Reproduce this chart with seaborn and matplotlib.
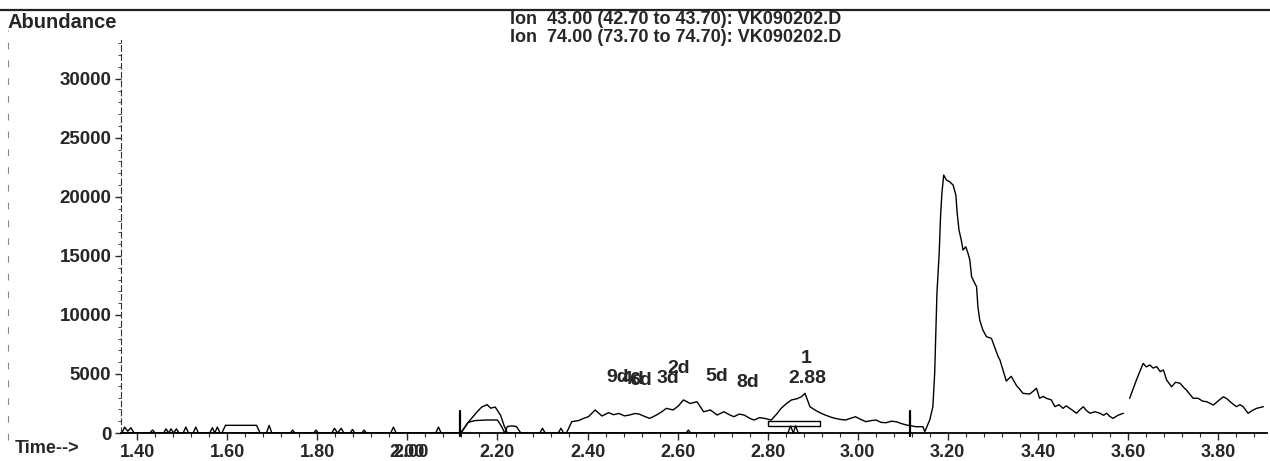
import numpy as np
import pandas as pd
import matplotlib
matplotlib.use("Agg")
import matplotlib.pyplot as plt
import matplotlib.ticker as ticker
import matplotlib.lines as lines
import seaborn as sns

# Ion 43 trace (time in min, abundance); None marks a gap in the trace
ion43_time = [1.365, 2.116, 2.121, 2.135, 2.155, 2.165, 2.177, 2.185, 2.195, 2.207, 2.215, 2.222,
              2.353, 2.357, 2.365, 2.380, 2.392, 2.402, 2.417, 2.432, 2.447, 2.458, 2.470, 2.482, 2.493,
              2.505, 2.515, 2.527, 2.538, 2.553, 2.565, 2.575, 2.590, 2.602, 2.613, 2.628, 2.643, 2.658,
              2.673, 2.688, 2.703, 2.715, 2.725, 2.737, 2.748, 2.760, 2.770, 2.782, 2.793, 2.808, 2.820,
              2.830, 2.842, 2.853, 2.865, 2.875, 2.883, 2.894, 2.905, 2.917, 2.928, 2.940, 2.950, 2.962,
              2.973, 2.985, 2.995, 3.007, 3.018, 3.030, 3.041, 3.052, 3.063, 3.075, 3.086, 3.097, 3.108,
              3.130, 3.145, 3.149, 3.160, 3.167, 3.171, 3.173, 3.176, 3.181, 3.184, 3.187, 3.191, 3.197,
              3.204, 3.212, 3.218, 3.221, 3.225, 3.230, 3.234, 3.240, 3.245, 3.249, 3.253, 3.260, 3.264,
              3.267, 3.271, 3.278, 3.286, 3.297, 3.301, 3.312, 3.316, 3.330, 3.341, 3.353, 3.360, 3.367,
              3.382, 3.390, 3.397, 3.404, 3.412, 3.419, 3.430, 3.438, 3.447, 3.456, 3.463, 3.471, 3.478,
              3.486, 3.493, 3.501, 3.508, 3.516, 3.527, 3.538, 3.546, 3.553, 3.560, 3.567, 3.578, 3.590,
              None,
              3.604, 3.619, 3.634, 3.641, 3.649, 3.656, 3.664, 3.672, 3.679, 3.686, 3.697, 3.706, 3.716,
              3.723, 3.730, 3.745, 3.756, 3.766, 3.775, 3.790, 3.800, 3.812, 3.820, 3.827, 3.841, 3.849,
              3.856, 3.867, 3.876, 3.886, 3.901]
ion43_abund = [0, 0, 100, 900, 1800, 2200, 2400, 2100, 2200, 1500, 600, 0,
               0, 300, 960, 1050, 1250, 1380, 1950, 1440, 1720, 1550, 1660, 1450, 1520,
               1650, 1600, 1400, 1240, 1520, 1800, 2090, 1950, 2300, 2800, 2500, 2650, 1800,
               1950, 1520, 1800, 1550, 1380, 1600, 1520, 1250, 1100, 1300, 1240, 1100, 1600,
               2090, 2500, 2800, 2900, 3070, 3360, 2230, 1950, 1700, 1520, 1350, 1240, 1150,
               1100, 1250, 1380, 1150, 960, 1050, 1100, 900, 870, 1000, 950, 800, 680,
               530, 530, 110, 1100, 2230, 5060, 7880, 11830, 15220, 18320, 20300, 21850, 21430,
               21290, 21000, 20160, 18610, 17190, 16350, 15500, 15780, 15220, 14660, 13240, 12680, 12390,
               10700, 9570, 8720, 8160, 8020, 7600, 6460, 6180, 4400, 4800, 4000, 3700, 3360,
               3300, 3550, 3790, 2940, 3100, 2940, 2800, 2230, 2400, 2090, 2300, 2090, 1900,
               1670, 1950, 2230, 1900, 1670, 1800, 1670, 1500, 1670, 1400, 1240, 1500, 1670,
               None,
               2940, 4490, 5900, 5600, 5760, 5500, 5620, 5200, 5340, 4490, 3920, 4300, 4210,
               3900, 3640, 2940, 2940, 2700, 2650, 2370, 2700, 3070, 2900, 2650, 2230, 2400,
               2230, 1670, 1900, 2090, 2230]

# Ion 74 trace: mostly baseline with small bumps
ion74_time = [1.365, 1.366, 1.372, 1.379, 1.386, 1.393, 1.428, 1.434, 1.440, 1.459, 1.464, 1.470,
              1.475, 1.481, 1.487, 1.493, 1.502, 1.508, 1.514, 1.524, 1.530, 1.536, 1.561, 1.567,
              1.572, 1.578, 1.584, 1.588, 1.596, 1.665, 1.673, 1.687, 1.693, 1.699, 1.740, 1.745,
              1.750, 1.792, 1.797, 1.802, 1.832, 1.838, 1.845, 1.853, 1.859, 1.873, 1.878, 1.883,
              1.899, 1.904, 1.909, 1.963, 1.969, 1.975, 2.063, 2.069, 2.075, 2.118, 2.135, 2.150,
              2.175, 2.200, 2.210, 2.216, 2.222, 2.232, 2.242, 2.252, 2.294, 2.300, 2.306, 2.335,
              2.341, 2.347, 2.619, 2.624, 2.629, 2.845, 2.851, 2.857, 2.862, 2.868, 2.874, 3.905]
ion74_abund = [0, 0, 500, 150, 450, 0, 0, 250, 0, 0, 350, 0,
               350, 0, 350, 0, 0, 500, 0, 0, 500, 0, 0, 450,
               0, 500, 0, 0, 650, 650, 0, 0, 650, 0, 0, 250,
               0, 0, 250, 0, 0, 400, 0, 400, 0, 0, 300, 0,
               0, 250, 0, 0, 500, 0, 0, 500, 0, 0, 900, 1050,
               1100, 1100, 500, 0, 550, 600, 550, 0, 0, 400, 0, 0,
               400, 0, 0, 250, 0, 0, 600, 0, 600, 0, 0]

# integration markers and the baseline box of peak 1
marker_times = [2.116, 3.116]
marker_low, marker_high = -250, 1850
box_start, box_end = 2.800, 2.917
box_low, box_high = 590, 1000

# peak labels: (text, time, abundance of text centre)
label_text = ["9d", "4d", "6d", "3d", "2d", "5d", "8d", "1", "2.88"]
label_time = [2.468, 2.502, 2.518, 2.578, 2.603, 2.688, 2.755, 2.886, 2.888]
label_abund = [4700, 4550, 4450, 4600, 5500, 4750, 4300, 6300, 4600]

xticks = [1.40, 1.60, 1.80, 2.00, 2.20, 2.40, 2.60, 2.80, 3.00, 3.20, 3.40, 3.60, 3.80]
yticks = [0, 5000, 10000, 15000, 20000, 25000, 30000]

header = ["Ion  43.00 (42.70 to 43.70): VK090202.D",
          "Ion  74.00 (73.70 to 74.70): VK090202.D"]


def to_frame(times, values):
    seg = 0
    rows = []
    for t, v in zip(times, values):
        if t is None:
            seg += 1
            continue
        rows.append((t, v, seg))
    return pd.DataFrame(rows, columns=["time", "abund", "seg"])


df43 = to_frame(ion43_time, ion43_abund)
df74 = to_frame(ion74_time, ion74_abund)

sns.set_style("white")
plt.rcParams["font.family"] = ["Liberation Sans", "DejaVu Sans"]
plt.rcParams["font.weight"] = "bold"

fig = plt.figure(figsize=(12.7, 4.61), dpi=100)
ax = fig.add_axes([121 / 1270, 1 - 433 / 461, (1267 - 121) / 1270, (433 - 40) / 461])

sns.lineplot(data=df74, x="time", y="abund", units="seg", estimator=None, sort=False,
             color="black", lw=1.0, ax=ax)
sns.lineplot(data=df43, x="time", y="abund", units="seg", estimator=None, sort=False,
             color="black", lw=1.0, ax=ax)

for t in marker_times:
    ax.plot([t, t], [marker_low, marker_high], color="black", lw=1.6, clip_on=False)
ax.plot([box_start, box_end, box_end, box_start, box_start],
        [box_high, box_high, box_low, box_low, box_high], color="black", lw=1.0)

for s, t, a in zip(label_text, label_time, label_abund):
    ax.text(t, a, s, ha="center", va="center", fontsize=14, fontweight="bold")

ax.set_xlim(1.364, 3.909)
ax.set_ylim(0, 33290)
ax.set_xticks(xticks)
ax.set_xticklabels([f"{x:.2f}" for x in xticks], fontsize=13, fontweight="bold")
ax.set_yticks(yticks)
ax.set_yticklabels([str(y) for y in yticks], fontsize=13.5, fontweight="bold")
ax.xaxis.set_minor_locator(ticker.MultipleLocator(0.04))
ax.yaxis.set_minor_locator(ticker.MultipleLocator(1000))
ax.tick_params(axis="x", which="major", direction="out", length=5, width=1, pad=3, bottom=True)
ax.tick_params(axis="x", which="minor", direction="out", length=3, width=0.8, bottom=True)
ax.tick_params(axis="y", which="major", direction="out", length=4, width=1, pad=3, left=True)
ax.tick_params(axis="y", which="minor", direction="out", length=2, width=0.6, left=True)
ax.set_xlabel("")
ax.set_ylabel("")
for side in ["top", "right"]:
    ax.spines[side].set_visible(False)
ax.spines["bottom"].set_color("black")
ax.spines["bottom"].set_linewidth(1.3)
ax.spines["left"].set_color("#333333")
ax.spines["left"].set_linewidth(0.8)
ax.spines["left"].set_linestyle((0, (5, 3)))

# overprinted "2.00" tick label, as in the printout
ax.annotate("2.00", xy=(2.00, 0), xycoords=("data", "axes fraction"), xytext=(2.5, -8),
            textcoords="offset points", ha="center", va="top", fontsize=13, fontweight="bold")

fig.text(8 / 1270, 1 - 22 / 461, "Abundance", fontsize=14.5, fontweight="bold", va="center", ha="left")
fig.text(15 / 1270, 1 - 448 / 461, "Time-->", fontsize=13, fontweight="bold", va="center", ha="left")
fig.text(510 / 1270, 1 - 20 / 461, header[0], fontsize=13, fontweight="bold", va="center", ha="left")
fig.text(510 / 1270, 1 - 37 / 461, header[1], fontsize=13, fontweight="bold", va="center", ha="left")

# frame lines of the printout
fig.add_artist(lines.Line2D([0, 1], [1 - 10 / 461, 1 - 10 / 461], color="#222222", lw=1.6))
fig.add_artist(lines.Line2D([8 / 1270, 8 / 1270], [1 - 440 / 461, 1 - 30 / 461], color="#888888",
                            lw=0.8, linestyle=(0, (6, 10))))

fig.savefig("out.png", dpi=100)
